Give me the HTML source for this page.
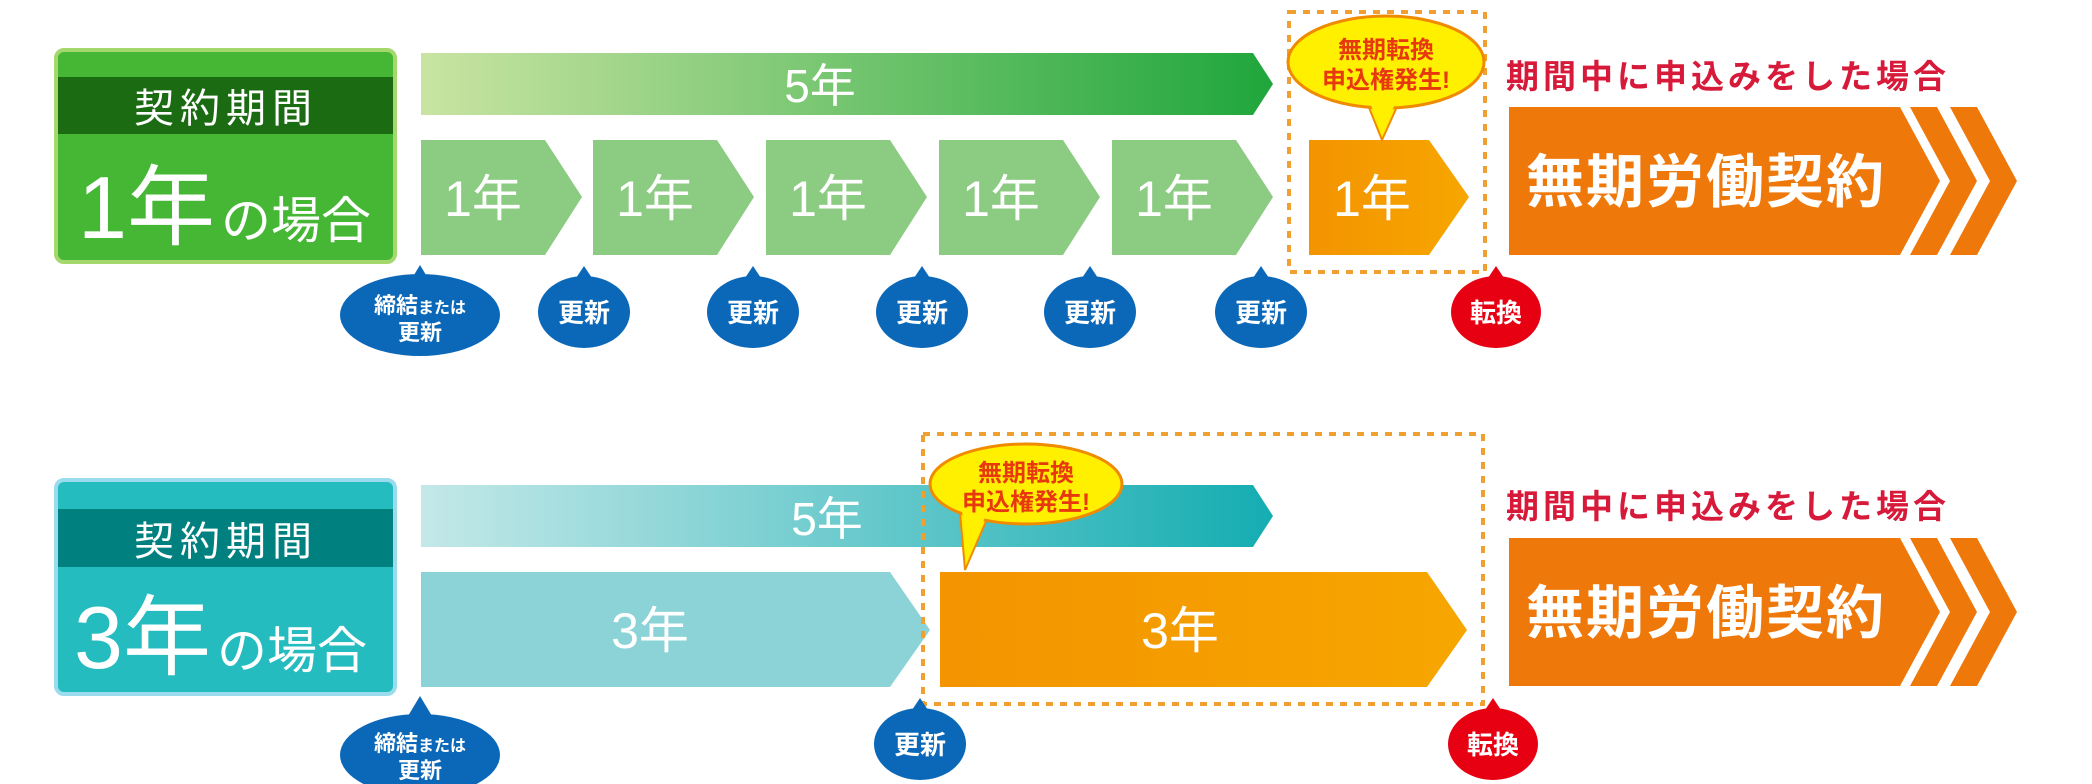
<!DOCTYPE html>
<html><head><meta charset="utf-8"><style>
html,body{margin:0;padding:0;background:#fff;width:2092px;height:784px;overflow:hidden}
svg text{font-family:"Liberation Sans","Noto Sans CJK JP",sans-serif}
</style></head><body>
<svg width="2092" height="784" viewBox="0 0 2092 784" xmlns="http://www.w3.org/2000/svg">
<defs>
<linearGradient id="gG" x1="0" x2="1"><stop offset="0" stop-color="#c9e4a2"/><stop offset="1" stop-color="#1fa63c"/></linearGradient>
<linearGradient id="gT" x1="0" x2="1"><stop offset="0" stop-color="#c4e8e8"/><stop offset="1" stop-color="#14adb2"/></linearGradient>
<linearGradient id="gO" x1="0" x2="1"><stop offset="0" stop-color="#f39400"/><stop offset="1" stop-color="#f7a600"/></linearGradient>
</defs>

<!-- ROW 1 -->
<rect x="56" y="50" width="339" height="212" rx="8" fill="#45b734" stroke="#a5d86c" stroke-width="4"/>
<rect x="58" y="77" width="335" height="57" fill="#1b6b12"/>
<text x="226" y="122" font-size="40" fill="#fff" text-anchor="middle" letter-spacing="6">契約期間</text>
<text x="78" y="238" font-size="88" fill="#fff">1年<tspan font-size="50" dx="6">の場合</tspan></text>

<polygon points="421,53 1253,53 1273,84 1253,115 421,115" fill="url(#gG)"/>
<text x="820" y="102" font-size="46" fill="#fff" text-anchor="middle">5年</text>

<g fill="#8ccb82">
<polygon points="421,140 545,140 582,197 545,255 421,255"/>
<polygon points="593,140 717,140 754,197 717,255 593,255"/>
<polygon points="766,140 890,140 927,197 890,255 766,255"/>
<polygon points="939,140 1063,140 1100,197 1063,255 939,255"/>
<polygon points="1112,140 1236,140 1273,197 1236,255 1112,255"/>
</g>
<g fill="#fff" font-size="50" text-anchor="middle">
<text x="483" y="216">1年</text><text x="655" y="216">1年</text><text x="828" y="216">1年</text><text x="1001" y="216">1年</text><text x="1174" y="216">1年</text>
</g>
<rect x="1289" y="12" width="196" height="260" fill="none" stroke="#f0a030" stroke-width="4" stroke-dasharray="7,7"/>
<polygon points="1309,140 1429,140 1469,197 1429,255 1309,255" fill="url(#gO)"/>
<text x="1372" y="216" font-size="50" fill="#fff" text-anchor="middle">1年</text>
<polygon points="1366,100 1400,100 1382,140" fill="#fff000" stroke="#f08a00" stroke-width="2"/>
<ellipse cx="1386" cy="62" rx="98" ry="46" fill="#fff000" stroke="#f08a00" stroke-width="3"/>
<polygon points="1368,98 1398,98 1382,132" fill="#fff000"/>
<text x="1386" y="58" font-size="24" font-weight="bold" fill="#e8380d" text-anchor="middle">無期転換</text>
<text x="1386" y="88" font-size="24" font-weight="bold" fill="#e8380d" text-anchor="middle">申込権発生!</text>

<text x="1506" y="88" font-size="33" font-weight="bold" fill="#d7193a" letter-spacing="4">期間中に申込みをした場合</text>
<polygon points="1509,107 1900,107 1940,181 1900,255 1509,255" fill="#ef780a"/>
<polygon points="1910,107 1937,107 1977,181 1937,255 1910,255 1950,181" fill="#ef780a"/>
<polygon points="1950,107 1977,107 2017,181 1977,255 1950,255 1990,181" fill="#ef780a"/>
<text x="1706" y="202" font-size="58" font-weight="bold" fill="#fff" text-anchor="middle" letter-spacing="2">無期労働契約</text>

<g fill="#0b68b8">
<polygon points="420,265 408,285 432,285"/><ellipse cx="420" cy="315" rx="80" ry="41"/>
<polygon points="584,266 572,284 596,284"/><ellipse cx="584" cy="312" rx="46" ry="36"/>
<polygon points="753,266 741,284 765,284"/><ellipse cx="753" cy="312" rx="46" ry="36"/>
<polygon points="922,266 910,284 934,284"/><ellipse cx="922" cy="312" rx="46" ry="36"/>
<polygon points="1090,266 1078,284 1102,284"/><ellipse cx="1090" cy="312" rx="46" ry="36"/>
<polygon points="1261,266 1249,284 1273,284"/><ellipse cx="1261" cy="312" rx="46" ry="36"/>
</g>
<polygon points="1496,266 1484,284 1508,284" fill="#e60012"/><ellipse cx="1496" cy="312" rx="45" ry="36" fill="#e60012"/>
<g fill="#fff" font-weight="bold" text-anchor="middle">
<text x="420" y="313" font-size="22">締結<tspan font-size="16">または</tspan></text>
<text x="420" y="340" font-size="22">更新</text>
<text x="584" y="322" font-size="26">更新</text>
<text x="753" y="322" font-size="26">更新</text>
<text x="922" y="322" font-size="26">更新</text>
<text x="1090" y="322" font-size="26">更新</text>
<text x="1261" y="322" font-size="26">更新</text>
<text x="1496" y="322" font-size="26">転換</text>
</g>

<!-- ROW 2 -->
<rect x="56" y="480" width="339" height="214" rx="8" fill="#25bcc0" stroke="#98dcee" stroke-width="4"/>
<rect x="58" y="509" width="335" height="58" fill="#00807f"/>
<text x="226" y="555" font-size="40" fill="#fff" text-anchor="middle" letter-spacing="6">契約期間</text>
<text x="74" y="668" font-size="88" fill="#fff">3年<tspan font-size="50" dx="6">の場合</tspan></text>

<polygon points="421,485 1253,485 1273,516 1253,547 421,547" fill="url(#gT)"/>
<text x="827" y="535" font-size="46" fill="#fff" text-anchor="middle">5年</text>
<polygon points="421,572 890,572 930,630 890,687 421,687" fill="#8bd3d6"/>
<text x="650" y="648" font-size="50" fill="#fff" text-anchor="middle">3年</text>
<rect x="923" y="434" width="560" height="270" fill="none" stroke="#f0a030" stroke-width="4" stroke-dasharray="7,7"/>
<polygon points="940,572 1427,572 1467,630 1427,687 940,687" fill="url(#gO)"/>
<text x="1180" y="648" font-size="50" fill="#fff" text-anchor="middle">3年</text>
<polygon points="960,512 990,512 965,570" fill="#fff000" stroke="#f08a00" stroke-width="2"/>
<ellipse cx="1026" cy="484" rx="96" ry="40" fill="#fff000" stroke="#f08a00" stroke-width="3"/>
<polygon points="962,510 988,510 967,562" fill="#fff000"/>
<text x="1026" y="481" font-size="24" font-weight="bold" fill="#e8380d" text-anchor="middle">無期転換</text>
<text x="1026" y="510" font-size="24" font-weight="bold" fill="#e8380d" text-anchor="middle">申込権発生!</text>

<text x="1506" y="518" font-size="33" font-weight="bold" fill="#d7193a" letter-spacing="4">期間中に申込みをした場合</text>
<polygon points="1509,538 1900,538 1940,612 1900,686 1509,686" fill="#ef780a"/>
<polygon points="1910,538 1937,538 1977,612 1937,686 1910,686 1950,612" fill="#ef780a"/>
<polygon points="1950,538 1977,538 2017,612 1977,686 1950,686 1990,612" fill="#ef780a"/>
<text x="1706" y="633" font-size="58" font-weight="bold" fill="#fff" text-anchor="middle" letter-spacing="2">無期労働契約</text>

<g fill="#0b68b8">
<polygon points="420,696 408,716 432,716"/><ellipse cx="420" cy="755" rx="80" ry="41"/>
<polygon points="920,698 908,716 932,716"/><ellipse cx="920" cy="744" rx="46" ry="36"/>
</g>
<polygon points="1493,698 1481,716 1505,716" fill="#e60012"/><ellipse cx="1493" cy="744" rx="45" ry="36" fill="#e60012"/>
<g fill="#fff" font-weight="bold" text-anchor="middle">
<text x="420" y="751" font-size="22">締結<tspan font-size="16">または</tspan></text>
<text x="420" y="778" font-size="22">更新</text>
<text x="920" y="754" font-size="26">更新</text>
<text x="1493" y="754" font-size="26">転換</text>
</g>
</svg>
</body></html>
